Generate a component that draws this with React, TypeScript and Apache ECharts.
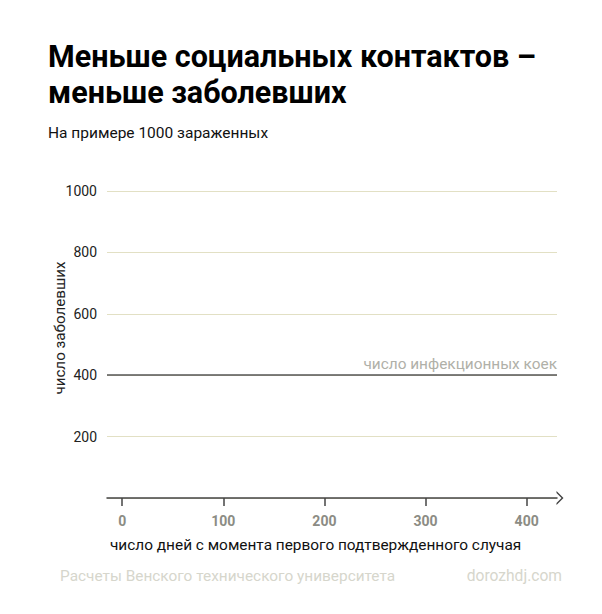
import React, { useEffect, useRef } from "react";
import * as echarts from "echarts";

const titleLines = ["Меньше социальных контактов –", "меньше заболевших"];
const subtitle = "На примере 1000 зараженных";
const xTicks = [0, 100, 200, 300, 400];
const xExtent = [-15, 430];
const yTicks = [200, 400, 600, 800, 1000];
const yExtent = [0, 1000];
const bedCapacity = 400;
const bedLabel = "число инфекционных коек";
const xName = "число дней с момента первого подтвержденного случая";
const yName = "число заболевших";
const source = "Расчеты Венского технического университета";
const site = "dorozhdj.com";

const FONT = "Roboto, 'Noto Sans', sans-serif";

export default function App() {
  const ref = useRef<HTMLDivElement>(null);
  useEffect(() => {
    document.body.style.margin = "0";
    if (!ref.current) return;
    const chart = echarts.init(ref.current, null, { renderer: "svg" });
    chart.setOption({
      animation: false,
      backgroundColor: "#ffffff",
      textStyle: { fontFamily: FONT },
      title: [
        {
          text: titleLines.join("\n"),
          left: 43,
          top: 33,
          textStyle: {
            fontFamily: FONT,
            fontSize: 30.5,
            fontWeight: "bold",
            color: "#000",
            lineHeight: 36,
          },
        },
        {
          text: subtitle,
          left: 43,
          top: 119,
          textStyle: {
            fontFamily: FONT,
            fontSize: 15.5,
            fontWeight: "normal",
            color: "#111",
            lineHeight: 18,
          },
        },
      ],
      grid: { left: 107, right: 45, top: 191, bottom: 116, containLabel: false },
      xAxis: {
        type: "value",
        min: xExtent[0],
        max: xExtent[1],
        splitLine: { show: false },
        axisLine: {
          show: true,
          onZero: false,
          lineStyle: { color: "#444", width: 1.5 },
          symbol: ["none", "path://M0,7 L7,0 L14,7 L12,7 L7,2 L2,7 Z"],
          symbolSize: [14, 7],
          symbolOffset: [0, 3],
        },
        axisTick: {
          show: true,
          length: 8,
          customValues: xTicks,
          lineStyle: { color: "#444", width: 1.5 },
        },
        axisLabel: {
          customValues: xTicks,
          margin: 16,
          color: "#8c8c84",
          fontSize: 14,
          fontWeight: "bold",
          fontFamily: FONT,
        },
      },
      yAxis: {
        type: "value",
        min: yExtent[0],
        max: yExtent[1],
        interval: 200,
        axisLine: { show: false },
        axisTick: { show: false },
        axisLabel: {
          showMinLabel: false,
          formatter: (v: number) => (yTicks.includes(v) ? String(v) : ""),
          margin: 10,
          color: "#222",
          fontSize: 14,
          fontFamily: FONT,
        },
        splitLine: {
          show: true,
          lineStyle: { color: "#e2e0c4", width: 1, type: "solid" },
        },
      },
      series: [
        {
          type: "line",
          data: [],
          markLine: {
            silent: true,
            symbol: ["none", "none"],
            lineStyle: { color: "#555", width: 1.5, type: "solid" },
            label: {
              show: true,
              position: "insideEndTop",
              formatter: bedLabel,
              color: "#b0b0a8",
              fontSize: 15.4,
              fontFamily: FONT,
              distance: [0, 4],
            },
            data: [{ yAxis: bedCapacity }],
          },
        },
      ],
      graphic: [
        {
          type: "text",
          x: 60,
          y: 328,
          rotation: Math.PI / 2,
          style: {
            text: yName,
            fill: "#222",
            font: `15.2px ${FONT}`,
            align: "center",
            verticalAlign: "middle",
          },
        },
        {
          type: "text",
          x: 110,
          y: 545,
          style: {
            text: xName,
            fill: "#111",
            font: `15.4px ${FONT}`,
            align: "left",
            verticalAlign: "middle",
          },
        },
        {
          type: "text",
          x: 60,
          y: 576,
          style: {
            text: source,
            fill: "#d6d6cc",
            font: `15.4px ${FONT}`,
            align: "left",
            verticalAlign: "middle",
          },
        },
        {
          type: "text",
          x: 562,
          y: 576,
          style: {
            text: site,
            fill: "#d6d6cc",
            font: `15.6px ${FONT}`,
            align: "right",
            verticalAlign: "middle",
          },
        },
      ],
    });
    return () => chart.dispose();
  }, []);
  return <div ref={ref} style={{ width: 602, height: 614 }} />;
}
